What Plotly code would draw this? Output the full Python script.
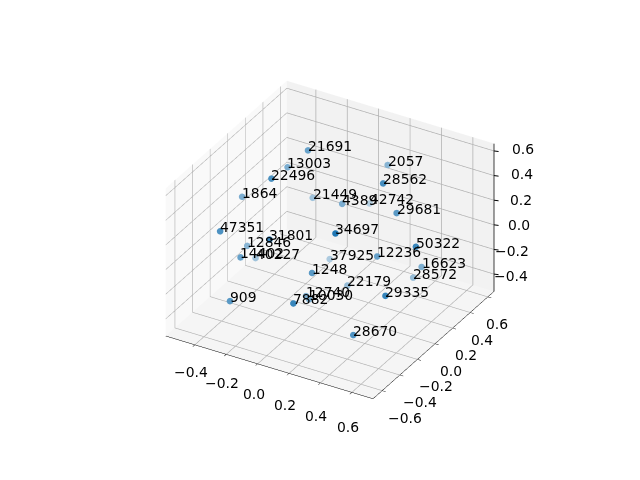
import numpy as np
import plotly.graph_objects as go

labels=[21691,13003,22496,1864,21449,47351,31801,34697,12846,14402,40227,37925,1248,909,7882,12740,10030,22179,28670,29335,28572,16623,12236,50322,29681,42742,4389,28562,2057]
x=[-0.12,-0.267,-0.139,-0.442,-0.239,-0.323,0.012,0.405,-0.395,-0.277,-0.429,-0.119,0.129,-0.222,0.208,-0.002,0.017,0.092,0.456,0.642,0.393,0.508,0.372,0.702,0.448,-0.039,0.044,0.417,0.161]
y=[0.081,0.111,-0.30,-0.093,0.347,-0.555,-0.591,-0.543,-0.119,-0.405,0.037,0.326,-0.317,-0.623,-0.67,-0.152,-0.15,0.151,-0.432,-0.398,0.361,0.252,-0.01,-0.159,0.075,0.637,0.177,-0.023,0.485]
z=[0.65,0.437,0.655,0.259,0.05,0.318,0.403,0.574,-0.105,0.029,-0.316,-0.388,0.003,-0.167,0.01,-0.34,-0.36,-0.41,-0.302,0.067,-0.363,-0.163,0.036,0.337,0.364,-0.103,0.218,0.655,0.383]

x_range=[-0.585,0.735]
y_range=[-0.704,0.671]
z_range=[-0.54,0.66]
x_ticks=[-0.4,-0.2,0.0,0.2,0.4,0.6]
y_ticks=[-0.6,-0.4,-0.2,0.0,0.2,0.4,0.6]
z_ticks=[-0.4,-0.2,0.0,0.2,0.4,0.6]

def tick_text(ticks):
    return [('\u2212%.1f'%-t if t<0 else '%.1f'%t) for t in ticks]

# depth shading like matplotlib: nearer points are darker
def depth_alpha():
    d=[]
    for a,b,c in zip(x,y,z):
        d.append(0.433*(a-x_range[0])/(x_range[1]-x_range[0])-0.75*(b-y_range[0])/(y_range[1]-y_range[0])+0.375*(c-z_range[0])/(z_range[1]-z_range[0]))
    d=np.array(d)
    return 0.3+0.7*(d-d.min())/(d.max()-d.min())

# webgl alpha looks wrong, so blend with the pane colour by hand
colors=[]
for a in depth_alpha():
    colors.append('rgb(%d,%d,%d)'%(245+(31-245)*a,245+(119-245)*a,245+(180-245)*a))

fig=go.Figure(go.Scatter3d(
    x=x,y=y,z=z,
    mode='markers',
    marker=dict(size=3.8,color=colors,line=dict(width=0)),
))

# z axis sits on the right hand edge in the reference, plotly puts it left
fig.add_trace(go.Scatter3d(
    x=[x_range[1],x_range[1]],y=[y_range[1],y_range[1]],z=z_range,
    mode='lines',line=dict(color='black',width=1.5),hoverinfo='skip'))

font=dict(family='DejaVu Sans',size=13.9,color='black')
notes=[]
# labels on the points
for a,b,c,v in zip(x,y,z,labels):
    notes.append(dict(x=a,y=b,z=c,text=str(v),showarrow=False,xanchor='left',yanchor='bottom',
                      xshift=-2,yshift=-6,font=font))
# tick labels placed by hand to sit where matplotlib has them
# shifts drift along the axis because the reference has some perspective
for t,s in zip(x_ticks,tick_text(x_ticks)):
    notes.append(dict(x=t,y=y_range[0],z=z_range[0],text=s,showarrow=False,
                      xshift=-4,yshift=-27-8*(t+0.4),font=font))
for t,s in zip(y_ticks,tick_text(y_ticks)):
    notes.append(dict(x=x_range[1],y=t,z=z_range[0],text=s,showarrow=False,
                      xshift=16-11.7*t,yshift=-27,font=font))
for t,s in zip(z_ticks,tick_text(z_ticks)):
    notes.append(dict(x=x_range[1],y=y_range[1],z=t,text=s,showarrow=False,xanchor='right',
                      xshift=36+6*(t+0.4),yshift=-2+4*(t+0.4),font=font))
    notes.append(dict(x=x_range[1],y=y_range[1],z=t,text=' ',showarrow=True,arrowhead=0,arrowwidth=1,
                      arrowcolor='black',ax=8,ay=1,font=font))

def axis(rng,ticks,bg,outer=True):
    return dict(
        range=rng,
        tickvals=ticks,
        ticktext=tick_text(ticks),
        title=dict(text=''),
        showticklabels=False,
        showbackground=True,
        backgroundcolor=bg,
        gridcolor='#b0b0b0',
        gridwidth=1.5,
        zeroline=False,
        showline=outer,
        linecolor='black',
        linewidth=1,
        ticks='outside' if outer else '',
        ticklen=4,
        tickcolor='black',
        showspikes=False,
    )

fig.update_layout(
    width=640,height=480,
    margin=dict(l=0,r=0,t=0,b=0),
    paper_bgcolor='white',
    showlegend=False,
    scene=dict(
        domain=dict(x=[0,1],y=[0,1]),
        xaxis=axis(x_range,x_ticks,'#f9f9f9'),
        yaxis=axis(y_range,y_ticks,'#f2f2f2'),
        zaxis=axis(z_range,z_ticks,'#f5f5f5',outer=False),
        aspectmode='manual',
        aspectratio=dict(x=1,y=1,z=0.72),
        annotations=notes,
        camera=dict(
            eye=dict(x=0.75,y=-1.3,z=0.87),
            center=dict(x=-0.007,y=-0.004,z=-0.04),
            up=dict(x=0,y=0,z=1),
            projection=dict(type='orthographic'),
        ),
    ),
)

fig.write_html("out.html")
